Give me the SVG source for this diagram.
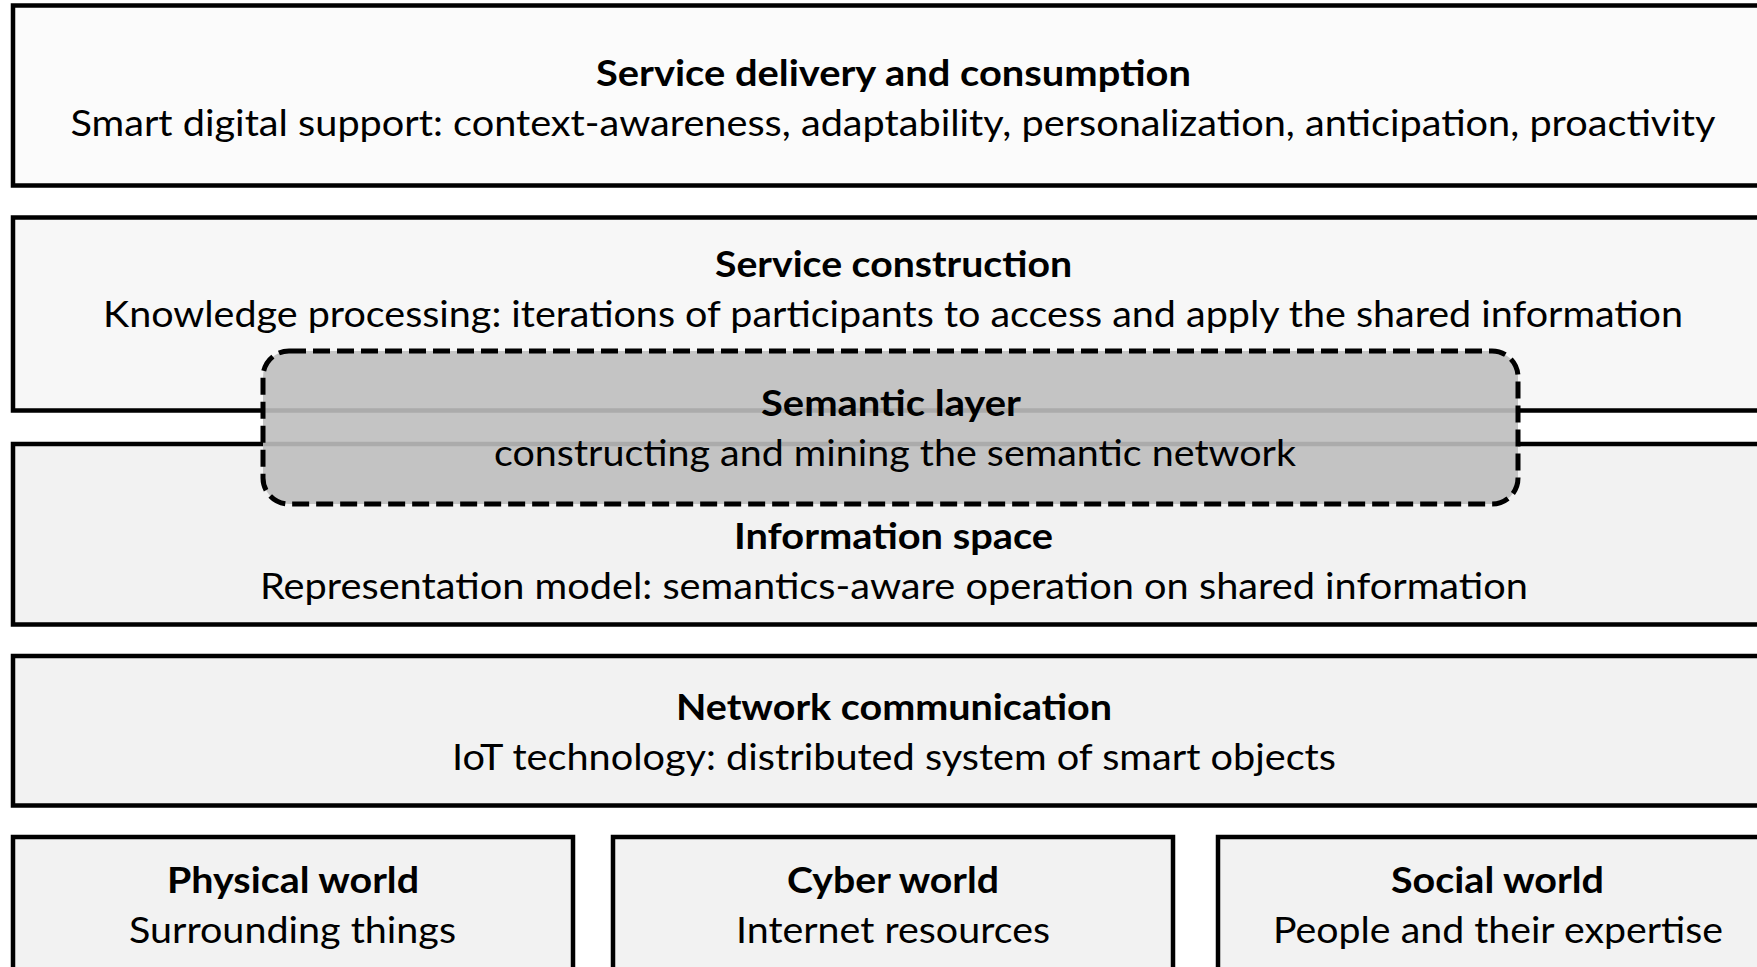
<svg xmlns="http://www.w3.org/2000/svg" width="1757" height="967" viewBox="0 0 1757 967">
<style>
.box{stroke:#000;stroke-width:4.5}
.t{font-family:Lato,"Open Sans","Liberation Sans",sans-serif;font-size:37px;fill:#000;text-anchor:middle}
.b{font-weight:bold}
.sem{fill:rgb(190,190,190);fill-opacity:0.9;stroke:#000;stroke-width:5;stroke-dasharray:17 7}
</style>
<rect width="1757" height="967" fill="#fff"/>
<g id="service-delivery">
<rect class="box" x="13" y="5.5" width="1770" height="180" fill="#fbfbfb"/>
<text class="t b" x="893.5" y="86" textLength="595" lengthAdjust="spacingAndGlyphs">Service delivery and consumption</text>
<text class="t" x="893" y="136" textLength="1645" lengthAdjust="spacingAndGlyphs">Smart digital support: context-awareness, adaptability, personalization, anticipation, proactivity</text>
</g>
<g id="service-construction">
<rect class="box" x="13" y="217.5" width="1770" height="193" fill="#f7f7f7"/>
<text class="t b" x="893.5" y="277" textLength="357" lengthAdjust="spacingAndGlyphs">Service construction</text>
<text class="t" x="893" y="327" textLength="1580" lengthAdjust="spacingAndGlyphs">Knowledge processing: iterations of participants to access and apply the shared information</text>
</g>
<g id="information-space">
<rect class="box" x="13" y="444" width="1770" height="180.5" fill="#f2f2f2"/>
<text class="t b" x="893.5" y="549" textLength="319" lengthAdjust="spacingAndGlyphs">Information space</text>
<text class="t" x="894" y="599" textLength="1268" lengthAdjust="spacingAndGlyphs">Representation model: semantics-aware operation on shared information</text>
</g>
<g id="semantic-layer">
<rect class="sem" x="263" y="351" width="1255" height="153" rx="26" ry="26"/>
<text class="t b" x="891" y="416" textLength="260" lengthAdjust="spacingAndGlyphs">Semantic layer</text>
<text class="t" x="895" y="466" textLength="802" lengthAdjust="spacingAndGlyphs">constructing and mining the semantic network</text>
</g>
<g id="network-communication">
<rect class="box" x="13" y="656" width="1770" height="149.5" fill="#f2f2f2"/>
<text class="t b" x="894" y="720" textLength="436" lengthAdjust="spacingAndGlyphs">Network communication</text>
<text class="t" x="894" y="770" textLength="884" lengthAdjust="spacingAndGlyphs">IoT technology: distributed system of smart objects</text>
</g>
<g id="physical-world">
<rect class="box" x="13" y="837" width="560" height="160" fill="#f2f2f2"/>
<text class="t b" x="293" y="893" textLength="252" lengthAdjust="spacingAndGlyphs">Physical world</text>
<text class="t" x="292.5" y="943" textLength="327" lengthAdjust="spacingAndGlyphs">Surrounding things</text>
</g>
<g id="cyber-world">
<rect class="box" x="613" y="837" width="560" height="160" fill="#f2f2f2"/>
<text class="t b" x="893" y="893" textLength="212" lengthAdjust="spacingAndGlyphs">Cyber world</text>
<text class="t" x="893" y="943" textLength="314" lengthAdjust="spacingAndGlyphs">Internet resources</text>
</g>
<g id="social-world">
<rect class="box" x="1218" y="837" width="570" height="160" fill="#f2f2f2"/>
<text class="t b" x="1497.5" y="893" textLength="213" lengthAdjust="spacingAndGlyphs">Social world</text>
<text class="t" x="1498" y="943" textLength="450" lengthAdjust="spacingAndGlyphs">People and their expertise</text>
</g>
<g id="connectors"/>
</svg>
